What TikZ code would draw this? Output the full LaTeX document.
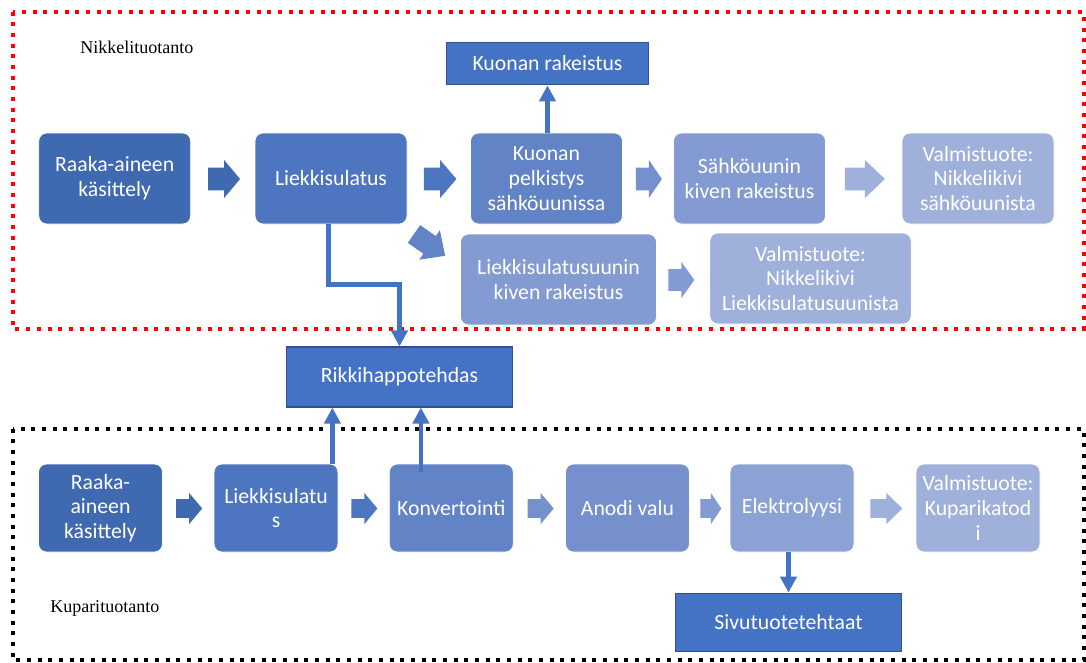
\documentclass[tikz,border=0pt]{standalone}
\usepackage{fontspec}
\setmainfont{Carlito}
\newfontfamily\timesfont{Liberation Serif}
\usepackage{xcolor}
\usepackage{tikz}
\usetikzlibrary{calc,arrows.meta}
\definecolor{toneA}{RGB}{63,105,177}
\definecolor{toneB}{RGB}{78,117,192}
\definecolor{toneC}{RGB}{98,131,198}
\definecolor{toneD}{RGB}{117,144,204}
\definecolor{toneE}{RGB}{131,155,210}
\definecolor{toneF}{RGB}{140,162,213}
\definecolor{toneG}{RGB}{159,176,218}
\definecolor{plainblue}{RGB}{68,114,196}
\definecolor{plainedge}{RGB}{47,82,143}
\definecolor{framered}{RGB}{255,0,0}

\tikzset{
  pics/barrow/.style args={#1/#2/#3}{code={
    \fill[#1] (0,-0.6*#3) -- (#2/2,-0.6*#3) -- (#2/2,-#3) -- (#2,0) -- (#2/2,#3) -- (#2/2,0.6*#3) -- (0,0.6*#3) -- cycle;
  }}
}

\begin{document}
\begin{tikzpicture}[x=0.75pt,y=0.75pt,yscale=-1,xscale=1,
  stage/.style={rounded corners=6pt, draw=white, line width=0.6pt, text=white, align=center,
    inner sep=1pt, font=\fontsize{16.3}{18.5}\selectfont, minimum width=114pt, minimum height=68.25pt},
  cstage/.style={stage, minimum width=93pt, minimum height=66pt},
  plainbox/.style={fill=plainblue, draw=plainedge, line width=0.8pt, text=white,
    font=\fontsize{16.3}{18.5}\selectfont, minimum width=170pt, minimum height=45pt},
  conn/.style={draw=plainblue, line width=3.5pt, -{Triangle[width=12pt,length=12pt]}},
  frame/.style={line width=3pt, dash pattern=on 3pt off 5pt},
  grouplbl/.style={font=\timesfont\fontsize{13.5}{16}\selectfont, inner sep=0pt, anchor=west}]
\useasboundingbox (0,0) rectangle (1086,662);

%Shape: Rectangle [nikkeli frame]
\draw [frame, color=framered] (12.8,11.7) rectangle (1083.5,329) ;
%Shape: Rectangle [kupari frame]
\draw [frame, color=black] (12.8,428.7) rectangle (1083.5,660) ;

% Text Node
\node [grouplbl] (nlabel) at (80,47) {Nikkelituotanto};
% Text Node
\node [grouplbl] (clabel) at (50,608) {Kuparituotanto};

%Nikkeli: first row
\node [stage, fill=toneA] (nraaka) at (114.7,178.5) {Raaka-aineen\\käsittely};
\node [stage, fill=toneB] (nliekki) at (331,178.5) {Liekkisulatus};
\node [stage, fill=toneC] (nkuonap) at (546.5,178.5) {Kuonan\\pelkistys\\sähköuunissa};
\node [stage, fill=toneE] (nsahko) at (749.5,178.5) {Sähköuunin\\kiven rakeistus};
\node [stage, fill=toneG] (nvalm1) at (978,178.5) {Valmistuote:\\Nikkelikivi\\sähköuunista};
%Nikkeli: second row
\node [stage, fill=toneE, minimum width=147pt] (nliekkikivi) at (558.5,279.5) {Liekkisulatusuunin\\kiven rakeistus};
\node [stage, fill=toneG, minimum width=151pt] (nvalm2) at (810.5,278.5) {Valmistuote:\\Nikkelikivi\\Liekkisulatusuunista};

%Side plants
\node [plainbox, minimum width=152pt, minimum height=32pt] (krak) at (547.5,63.5) {Kuonan rakeistus};
\node [plainbox] (rikki) at (399.5,377) {Rikkihappotehdas};
\node [plainbox, minimum height=44pt] (sivu) at (788.5,622.5) {Sivutuotetehtaat};

%Kupari row
\node [cstage, fill=toneA] (craaka) at (100.5,508) {Raaka-\\aineen\\käsittely};
\node [cstage, fill=toneB] (cliekki) at (276,508) {Liekkisulatu\\s};
\node [cstage, fill=toneC] (ckonv) at (451.3,508) {Konvertointi};
\node [cstage, fill=toneD] (canodi) at (627.5,508) {Anodi valu};
\node [cstage, fill=toneF] (celektro) at (792,508) {Elektrolyysi};
\node [cstage, fill=toneG] (cvalm) at (978,508) {Valmistuote:\\Kuparikatod\\i};

%Block arrows, nikkeli
\pic at ($(nraaka.east)+(17,0.5)$) {barrow=toneA/32/19};
\pic at ($(nliekki.east)+(16.5,0.5)$) {barrow=toneB/32.5/19};
\pic at ($(nkuonap.east)+(13,0.5)$) {barrow=toneD/26/19};
\pic at ($(nsahko.east)+(19,0.5)$) {barrow=toneG/40/19};
\pic [rotate=-35] at (414,234) {barrow=toneC/38/18};
\pic at ($(nliekkikivi.east)+(11.5,0.5)$) {barrow=toneE/26/18};

%Block arrows, kupari
\pic at ($(craaka.east)+(13.3,0.5)$) {barrow=toneA/26/15.5};
\pic at ($(cliekki.east)+(13,0.5)$) {barrow=toneB/26/15.5};
\pic at ($(ckonv.east)+(14,0.5)$) {barrow=toneD/26/15.5};
\pic at ($(canodi.east)+(10.5,0.5)$) {barrow=toneE/21/15.5};
\pic at ($(celektro.east)+(16,0.5)$) {barrow=toneG/32/15.5};

%Straight Lines
\draw [conn] (nkuonap.north -| krak.south) -- (krak.south) ;
\draw [conn] ([xshift=-2pt]nliekki.south) -- ++(0,60) -| (rikki.north) ;
\draw [conn] ($(cliekki.north east)+(-6,0)$) coordinate (cup) -- (cup |- rikki.south) ;
\draw [conn] ($(ckonv.north west)+(32,8)$) coordinate (kup) -- (kup |- rikki.south) ;
\draw [conn] (celektro.south -| sivu.north) -- (sivu.north) ;

\end{tikzpicture}
\end{document}
